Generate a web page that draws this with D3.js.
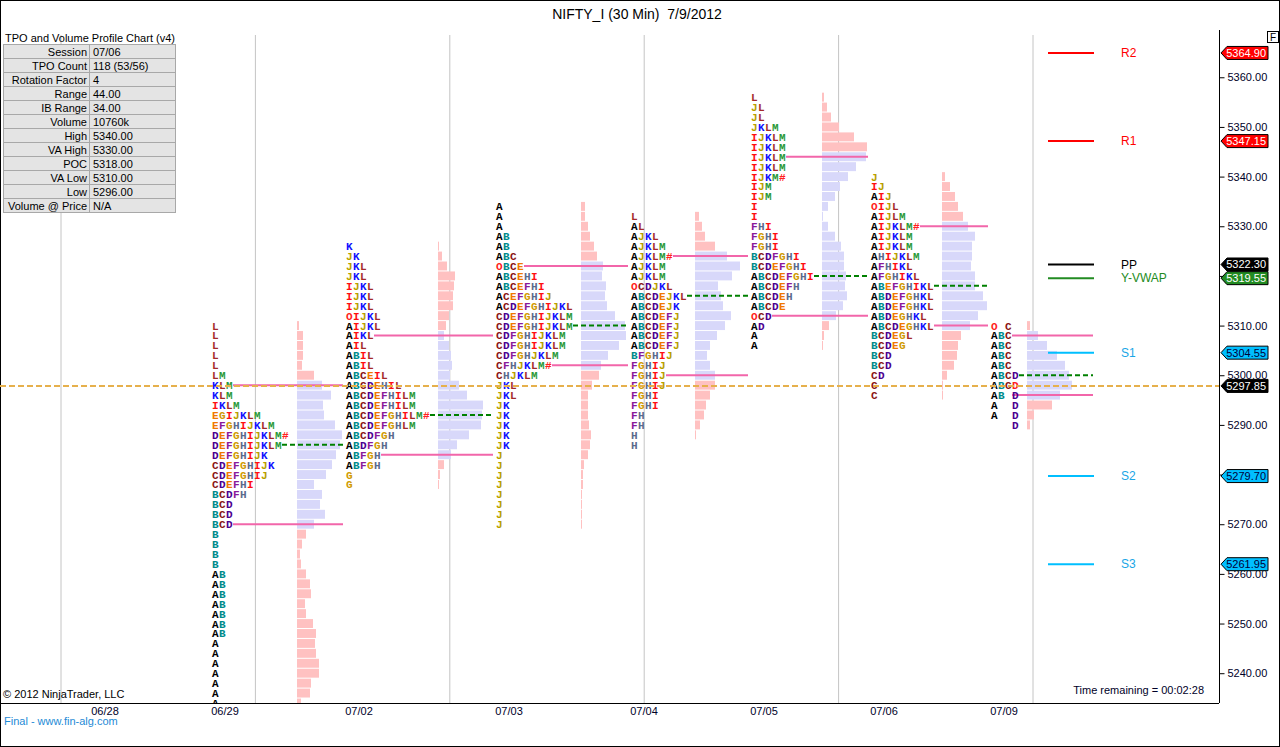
<!DOCTYPE html>
<html>
<head>
<meta charset="utf-8">
<script src="https://cdn.jsdelivr.net/npm/d3@7"></script>
<style>
  body { margin: 0; background: #fff; }
  svg { display: block; font-family: "Liberation Sans", Arial, sans-serif; }
</style>
</head>
<body>
<svg id="chart" width="1280" height="747"></svg>
<script>
// ---- data ----
const dateLabels = ["06/28", "06/29", "07/02", "07/03", "07/04", "07/05", "07/06", "07/09"];
const sessions = ["06/29", "07/02", "07/03", "07/04", "07/05", "07/06", "07/09"];
const sessionHigh = [5310, 5326, 5334, 5332, 5356, 5340, 5310];
const vaHigh = [5298, 5308, 5322, 5324, 5344, 5330, 5308];
const pocPrice = [5286, 5292, 5310, 5316, 5320, 5318, 5300];
const vaLow = [5270, 5284, 5302, 5300, 5312, 5310, 5296];
const tickSize = 2;

// TPO rows, top row = session high, one row per 2 points
const tpo0629 = ["L", "L", "L", "L", "L", "LM", "KLM", "KLM", "IKLM", "EGIJKLM", "EFGHIJKLM",
  "DEFGHIJKLM#", "DEFGHIJKLM", "DEFGHIJK", "CDEFGHIJK", "CDEFGHIJ", "CDEFHI", "BCDFH", "BCD",
  "BCD", "BCD", "B", "B", "B", "B", "AB", "AB", "AB", "AB", "AB", "AB", "AB", "A", "A", "A",
  "A", "A", "A", "A"];
const vol0629 = [2, 6, 6, 6, 5, 17, 25, 34, 26, 27, 38, 45, 43, 39, 35, 29, 17, 25, 23, 28, 17,
  9, 5, 3, 4, 9, 13, 14, 8, 9, 16, 19, 18, 19, 22, 22, 14, 13, 4];

const tpo0702 = ["K", "JK", "JKL", "JKL", "IJKL", "IJKL", "IJKL", "OIJKL", "AIJKL", "AIKL", "AIL",
  "ABIL", "ABIL", "ABCEIL", "ABCDEHIL", "ABCDEFHILM", "ABCDEFHILM", "ABCDEFGHILM#", "ABCDEFGHLM",
  "ABCDFGH", "ABDFGH", "ABFGH", "ABFGH", "G", "G"];
const vol0702 = [1, 4, 9, 17, 16, 15, 15, 11, 8, 6, 11, 13, 14, 12, 21, 29, 45, 44, 43, 31, 19,
  13, 6, 2, 1];

const tpo0703 = ["A", "A", "A", "AB", "AB", "ABC", "OBCE", "ABCEHI", "ABCEFHI", "ACEFGHIJ",
  "ACDEFGHIJKL", "CDEFGHIJKLM", "CDEFGHIJKLM", "CDFGHIJKLM", "CDFGHIJKLM", "CDFGHJKLM",
  "CFHJKLM#", "CHJKLM", "JKL", "JKL", "JK", "JK", "JK", "JK", "JK", "J", "J", "J", "J", "J",
  "J", "J", "J"];
const vol0703 = [4, 4, 7, 9, 13, 16, 22, 21, 25, 24, 26, 34, 44, 45, 38, 27, 20, 18, 11, 7, 7,
  7, 8, 10, 9, 7, 3, 2, 2, 1, 1, 1, 1];

const tpo0704 = ["L", "AL", "AJKL", "AJKLM", "AJKLM#", "AJKLM", "AJKLM", "OCDJKL", "ABCDEJKL",
  "ABCDEJK", "ABCDEFJ", "ABCDEFJ", "ABCDEFJ", "ABCDEFJ", "BFGHIJ", "FGHIJ", "FGHIJ", "FGHIJ",
  "FGHI", "FGHI", "FH", "FH", "H", "H"];
const vol0704 = [4, 7, 10, 20, 32, 45, 37, 23, 26, 28, 36, 30, 22, 15, 12, 15, 20, 20, 15, 11,
  9, 5, 1, 0];

const tpo0705 = ["L", "JL", "JL", "JKLM", "IJKLM", "IJKLM", "IJKLM", "IJKLM", "IJKM#", "IJM",
  "IJM", "I", "I", "FHI", "FGHI", "FGHI", "BCDFGHI", "BCDEFGHI", "ABCDEFGHI", "ABCDEFH",
  "ABCDEH", "ABCDE", "OCD", "AD", "A", "A"];
const vol0705 = [2, 5, 9, 17, 32, 45, 44, 34, 26, 18, 13, 6, 1, 6, 13, 19, 22, 22, 24, 23, 25,
  21, 14, 7, 2, 1];

const tpo0706 = ["J", "IJ", "AIJ", "OIJL", "AIJLM", "AIJKLM#", "AIJKLM", "AIJKLM", "AHIJKLM",
  "AFHIKL", "AFGHIKL", "ABEFGHIKL", "ABDEFGHKL", "ABDEFGHKL", "ABDEGHKL", "ABCDEGHKL",
  "BCDEGL", "BCDEG", "BCD", "BCD", "CD", "C", "C"];
const vol0706 = [3, 8, 13, 16, 21, 26, 33, 30, 30, 29, 33, 33, 41, 45, 36, 28, 19, 16, 15, 12,
  5, 1, 1];

// current session: letters keep their own column; lower case = current period (red)
const tpo0709 = ["O C", "ABC", "ABC", "ABC", "ABC", "ABCD", "ABCd", "AB D", "A  D", "A  D", "   D"];
const vol0709 = [3, 11, 20, 30, 38, 42, 45, 33, 25, 7, 3];

const tpoRows = [tpo0629, tpo0702, tpo0703, tpo0704, tpo0705, tpo0706, tpo0709];
const volRows = [vol0629, vol0702, vol0703, vol0704, vol0705, vol0706, vol0709];

const pivotNames = ["R2", "R1", "PP", "Y-VWAP", "S1", "S2", "S3"];
const pivotValues = [5364.90, 5347.15, 5322.30, 5319.55, 5304.55, 5279.70, 5261.95];
const lastPrice = 5297.85;
const yTicks = [5240, 5250, 5260, 5270, 5280, 5290, 5300, 5310, 5320, 5330, 5340, 5350, 5360];

const statNames = ["Session", "TPO Count", "Rotation Factor", "Range", "IB Range", "Volume",
  "High", "VA High", "POC", "VA Low", "Low", "Volume @ Price"];
const statValues = ["07/06", "118 (53/56)", "4", "44.00", "34.00", "10760k", "5340.00",
  "5330.00", "5318.00", "5310.00", "5296.00", "N/A"];

// ---- styles ----
const letterColors = {
  A: "#000000", B: "#008b8b", C: "#8b1010", D: "#4b0090", E: "#f07800", F: "#8a1a9a",
  G: "#d09a00", H: "#5a6a8c", I: "#ff1010", J: "#b8a000", K: "#1010ff", L: "#a52a2a",
  M: "#2a9a3a", O: "#ff2020", "#": "#ff2020"
};
const pivotColors = ["#ff0000", "#ff0000", "#000000", "#228b22", "#00bfff", "#00bfff", "#00bfff"];
const pivotTextColors = ["#ff0000", "#ff0000", "#000000", "#228b22", "#1aa6e6", "#1aa6e6", "#1aa6e6"];
const markerText = ["#fff", "#fff", "#fff", "#fff", "#00003a", "#00003a", "#00003a"];

// ---- layout ----
const width = 1280, height = 747;
const plot = { left: 0, top: 30, right: 1219, bottom: 703 };
const charW = 7;
const barMaxW = 45;

const svg = d3.select("#chart");

svg.append("defs").append("clipPath").attr("id", "plotClip")
  .append("rect")
  .attr("x", plot.left).attr("y", plot.top)
  .attr("width", plot.right - plot.left).attr("height", plot.bottom - plot.top);

const y = d3.scaleLinear().domain([5234.0, 5369.52]).range([plot.bottom, plot.top]);
const rowH = Math.abs(y(0) - y(tickSize));

const x = d3.scaleOrdinal()
  .domain([...dateLabels, "end"])
  .range([92, 212, 346, 496, 631, 751, 871, 991, 1096]);

// frame
svg.append("rect").attr("x", 0.5).attr("y", 0.5).attr("width", width - 1).attr("height", height - 1)
  .attr("fill", "#fff").attr("stroke", "#000");

svg.append("text")
  .attr("x", 637).attr("y", 19)
  .attr("text-anchor", "middle")
  .attr("font-size", 14)
  .style("white-space", "pre")
  .text("NIFTY_I (30 Min)  7/9/2012");

const plotG = svg.append("g").attr("clip-path", "url(#plotClip)");

// vertical grid lines
const grid = d3.range(6).map(i => 61 + i * 194.4);
plotG.append("g").selectAll("line").data(grid).join("line")
  .attr("x1", d => d).attr("x2", d => d)
  .attr("y1", plot.top + 5).attr("y2", plot.bottom)
  .attr("stroke", "#c4c4c4").attr("stroke-width", 1);

// ---- profiles ----
const nextDate = d => dateLabels.concat("end")[dateLabels.indexOf(d) + 1];
const letterCount = s => s.replace(/ /g, "").length;

sessions.forEach((s, si) => {
  const x0 = x(s);
  const rows = tpoRows[si].map((str, i) => ({
    price: sessionHigh[si] - i * tickSize,
    str,
    vol: volRows[si][i]
  }));
  const maxLen = d3.max(rows, r => r.str.length);
  const barX = x0 + (maxLen + 1) * charW + 1;
  const w = d3.scaleLinear().domain([0, d3.max(rows, r => r.vol)]).range([0, barMaxW]);
  const lineEnd = x(nextDate(s)) - 3;
  const g = plotG.append("g").attr("class", "profile");

  g.selectAll("rect").data(rows).join("rect")
    .attr("x", barX)
    .attr("y", r => y(r.price + tickSize / 2) + 0.5)
    .attr("width", r => w(r.vol))
    .attr("height", rowH - 1)
    .attr("fill", r => (r.price <= vaHigh[si] && r.price >= vaLow[si]) ? "#d8d8fa" : "#ffc1c1");

  const rowAt = p => rows.find(r => r.price === p);
  [
    { p: vaHigh[si], color: "#f266aa", dash: null },
    { p: vaLow[si], color: "#f266aa", dash: null },
    { p: pocPrice[si], color: "#008000", dash: "5,3" }
  ].forEach(l => {
    g.append("line")
      .attr("x1", x0 + letterCount(rowAt(l.p).str) * charW)
      .attr("x2", lineEnd)
      .attr("y1", y(l.p)).attr("y2", y(l.p))
      .attr("stroke", l.color).attr("stroke-width", 2)
      .attr("stroke-dasharray", l.dash);
  });

  const chars = rows.flatMap(r => r.str.split("").map((c, j) => ({ c, j, price: r.price })))
    .filter(d => d.c !== " ");
  g.selectAll("text").data(chars).join("text")
    .attr("x", d => x0 + d.j * charW)
    .attr("y", d => y(d.price))
    .attr("dy", "0.36em")
    .attr("font-family", "'Liberation Mono', 'Courier New', monospace")
    .attr("font-weight", "bold")
    .attr("font-size", 11)
    .attr("fill", d => d.c === d.c.toLowerCase() && d.c !== "#" ? "#ff2020" : letterColors[d.c])
    .text(d => d.c.toUpperCase());
});

// pivot lines
const piv = plotG.append("g");
piv.selectAll("line").data(pivotValues).join("line")
  .attr("x1", 1048).attr("x2", 1094)
  .attr("y1", d => y(d)).attr("y2", d => y(d))
  .attr("stroke", (d, i) => pivotColors[i]).attr("stroke-width", 2);
piv.selectAll("text").data(pivotNames).join("text")
  .attr("x", 1121).attr("y", (d, i) => y(pivotValues[i]))
  .attr("dy", "0.35em").attr("font-size", 12)
  .attr("fill", (d, i) => pivotTextColors[i])
  .text(d => d);

// last price line
plotG.append("line")
  .attr("x1", plot.left).attr("x2", plot.right)
  .attr("y1", y(lastPrice)).attr("y2", y(lastPrice))
  .attr("stroke", "#e6b04c").attr("stroke-width", 2).attr("stroke-dasharray", "6,3");

// plot border (bottom + right axis)
svg.append("line").attr("x1", 0).attr("x2", plot.right).attr("y1", plot.bottom + 0.5).attr("y2", plot.bottom + 0.5)
  .attr("stroke", "#000");

// y axis
const yAxis = svg.append("g")
  .attr("transform", `translate(${plot.right + 0.5},0)`)
  .call(d3.axisRight(y).tickValues(yTicks).tickFormat(d3.format(".2f")).tickSize(5).tickPadding(3).tickSizeOuter(0));
yAxis.select(".domain").attr("d", `M0,${plot.top}V${plot.bottom}`);
yAxis.selectAll("text").attr("font-size", 11).attr("font-family", "'Liberation Sans', Arial, sans-serif")
  .attr("fill", "#000028");

// price markers on the axis
const markers = pivotValues.map((v, i) => ({ v, bg: pivotColors[i], fg: markerText[i] }))
  .concat([{ v: lastPrice, bg: "#000000", fg: "#fff" }]);
const mk = svg.append("g").selectAll("g").data(markers).join("g")
  .attr("transform", d => `translate(${plot.right + 2},${y(d.v)})`);
mk.append("path")
  .attr("d", "M0,0L6,-6.5H47V6.5H6Z")
  .attr("fill", d => d.bg).attr("stroke", "#000").attr("stroke-width", 1);
mk.append("text")
  .attr("x", 45).attr("dy", "0.36em").attr("text-anchor", "end")
  .attr("font-size", 11).attr("fill", d => d.fg)
  .text(d => d3.format(".2f")(d.v));

// "F" box
svg.append("rect").attr("x", 1267.5).attr("y", 31.5).attr("width", 11).attr("height", 11)
  .attr("fill", "#fff").attr("stroke", "#000");
svg.append("text").attr("x", 1273).attr("y", 41).attr("text-anchor", "middle")
  .attr("font-size", 10).text("F");

// x labels
svg.append("g").selectAll("text").data(dateLabels).join("text")
  .attr("x", d => x(d) + 13).attr("y", 715)
  .attr("text-anchor", "middle").attr("font-size", 11).attr("fill", "#000028")
  .text(d => d);

// stats table
svg.append("text").attr("x", 5).attr("y", 42).attr("font-size", 11).text("TPO and Volume Profile Chart (v4)");
const tbl = svg.append("g").attr("transform", "translate(3,44)");
const cellH = 14;
const tr = tbl.selectAll("g").data(statNames).join("g")
  .attr("transform", (d, i) => `translate(0,${i * cellH})`);
tr.append("rect").attr("x", 0.5).attr("y", 0.5).attr("width", 86).attr("height", cellH)
  .attr("fill", "#e4e4e4").attr("stroke", "#a8a8a8");
tr.append("rect").attr("x", 86.5).attr("y", 0.5).attr("width", 86).attr("height", cellH)
  .attr("fill", "#e4e4e4").attr("stroke", "#a8a8a8");
tr.append("text").attr("x", 84).attr("y", 11.5).attr("text-anchor", "end")
  .attr("font-size", 11).text(d => d);
tr.append("text").attr("x", 90).attr("y", 11.5)
  .attr("font-size", 11).text((d, i) => statValues[i]);

// footer texts
svg.append("text").attr("x", 3).attr("y", 698).attr("font-size", 11).text("© 2012 NinjaTrader, LLC");
svg.append("text").attr("x", 1204).attr("y", 694).attr("text-anchor", "end").attr("font-size", 11)
  .attr("fill", "#000028").text("Time remaining = 00:02:28");
svg.append("text").attr("x", 4).attr("y", 725).attr("font-size", 11).attr("fill", "#1e8ad6")
  .text("Final - www.fin-alg.com");
</script>
</body>
</html>
